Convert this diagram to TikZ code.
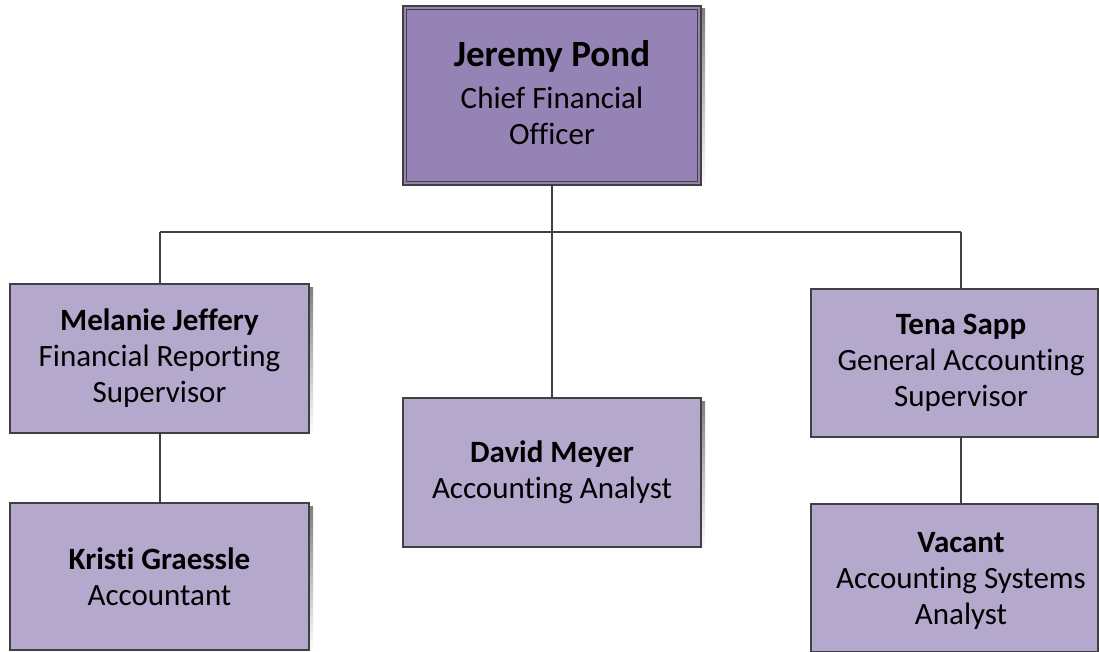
\documentclass[tikz,border=0pt]{standalone}
\usepackage{fontspec}
\setmainfont{Carlito}[Ligatures=NoCommon]
\definecolor{topfill}{HTML}{9483B4}
\definecolor{boxfill}{HTML}{B4A8CC}
\definecolor{edge}{HTML}{404040}
\definecolor{shade}{HTML}{D8D8D8}
\begin{document}
\begin{tikzpicture}[x=1pt,y=-1pt,
  box/.style={draw=edge, line width=1.3pt, fill=boxfill, inner sep=0pt, align=center,
     font=\fontsize{31}{36}\selectfont},
  conn/.style={draw=edge, line width=2pt},
  txt/.style={align=center, font=\fontsize{31}{36}\selectfont, inner sep=0pt}
]
\useasboundingbox (0,0) rectangle (1099,652);
% shadows
\fill[shade] (406,9) rectangle (705,189);
\fill[shade] (13,287) rectangle (313,437);
\fill[shade] (13,506) rectangle (313,654);
\fill[shade] (406,401) rectangle (705,551);
\fill[shade] (814,292) rectangle (1102,441);
\fill[shade] (814,507) rectangle (1102,656);
% boxes
\node[box, fill=topfill, minimum width=298pt, minimum height=179pt] (cfo) at (552,95.5) {};
\draw[edge, line width=1pt] ([shift={(4pt,4pt)}]cfo.south west) rectangle ([shift={(-4pt,-4pt)}]cfo.north east);
\node[txt] (cfotxt) at (552,93) {{\fontsize{37}{42}\selectfont\bfseries Jeremy Pond}\\[6pt]Chief Financial\\Officer};

\node[box, minimum width=299pt, minimum height=149pt] (mel) at (159.5,358.5)
  {\textbf{Melanie Jeffery}\\Financial Reporting\\Supervisor};
\node[box, minimum width=299pt, minimum height=147pt] (kri) at (159.5,576.5)
  {\textbf{Kristi Graessle}\\Accountant};
\node[box, minimum width=298pt, minimum height=149pt] (dav) at (552,472.5)
  {\textbf{David Meyer}\\Accounting Analyst};
\node[box, minimum width=287pt, minimum height=148pt] (ten) at (954.5,363) {};
\node[txt] (tentxt) at (961,363) {\textbf{Tena Sapp}\\General Accounting\\Supervisor};
\node[box, minimum width=287pt, minimum height=148pt] (vac) at (954.5,578) {};
\node[txt] (vactxt) at (961,581) {\textbf{Vacant}\\Accounting Systems\\Analyst};

% connectors
\coordinate (bus) at (552,232);
\coordinate (busL) at (160,232);
\coordinate (busR) at (961,232);
\draw[conn] (cfo.south) -- (bus);
\draw[conn] (busL) -- (busR);
\draw[conn] (busL) -- (busL |- mel.north);
\draw[conn] (bus) -- (dav.north);
\draw[conn] (busR) -- (busR |- ten.north);
\draw[conn] (mel.south -| busL) -- (kri.north -| busL);
\draw[conn] (ten.south -| busR) -- (vac.north -| busR);
\end{tikzpicture}
\end{document}
